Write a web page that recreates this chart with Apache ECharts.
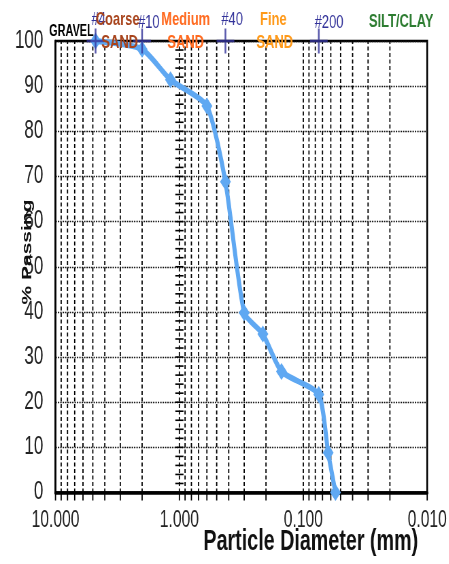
<!DOCTYPE html>
<html>
<head>
<meta charset="utf-8">
<script src="https://cdn.jsdelivr.net/npm/echarts@6/dist/echarts.min.js"></script>
<style>
  html, body { margin: 0; padding: 0; background: #fff; overflow: hidden; }
  /* the chart is laid out on a wider canvas and squeezed horizontally */
  #chart { width: 660px; height: 564px; transform: scaleX(0.68); transform-origin: 0 0; }
</style>
</head>
<body>
<div id="chart"></div>
<script>
// Sieve analysis: grain size (mm) vs. percent passing
const grainSizes     = [4.75, 2.0, 1.18, 0.6, 0.425, 0.3, 0.212, 0.15, 0.075, 0.063, 0.055];
const percentPassing = [100, 98.2, 91.4, 85.6, 68.8, 39.8, 35.1, 26.8, 21.7, 8.8, 0];

// Standard sieves marked along the top of the chart
const sieveNames = ['#4', '#10', '#40', '#200'];
const sieveSizes = [4.75, 2.0, 0.425, 0.075];

// Axis ticks
const xMajorTicks  = [10, 1, 0.1, 0.01];
const xTickLabels  = ['10.000', '1.000', '0.100', '0.010'];
const minorFactors = [2, 3, 4, 5, 6, 7, 8, 9];
const yMin = 0, yMax = 100, yStep = 10, crossTickStep = 2;

const FONT = "'Liberation Sans', Arial, sans-serif";

// vertical grid positions: each decade plus its 2..9 subdivisions
const gridVals = [];
xMajorTicks.forEach(function (m, i) {
  gridVals.push(m);
  if (i < xMajorTicks.length - 1) {
    minorFactors.forEach(function (f) { gridVals.push(m / 10 * f); });
  }
});
// small crossing ticks on the 1 mm line
const crossTicks = [];
for (let v = yMin + crossTickStep; v < yMax; v += crossTickStep) crossTicks.push(v);

const chart = echarts.init(document.getElementById('chart'), null, { renderer: 'canvas' });

chart.setOption({
  animation: false,
  backgroundColor: '#fff',
  grid: {
    left: 81.6, right: 29.1, top: 41, bottom: 71.5,
    show: true, borderColor: '#000', borderWidth: 2.5, backgroundColor: 'transparent'
  },
  xAxis: {
    type: 'log', logBase: 10, min: 0.01, max: 10, inverse: true,
    axisLine: { show: true, lineStyle: { color: '#000', width: 3.5 } },
    axisTick: { show: false },
    splitLine: { show: false },
    axisLabel: {
      fontFamily: FONT, fontSize: 23, color: '#222', margin: 17,
      formatter: function (v) {
        let best = 0;
        xMajorTicks.forEach(function (t, i) {
          if (Math.abs(Math.log10(t) - Math.log10(v)) < Math.abs(Math.log10(xMajorTicks[best]) - Math.log10(v))) best = i;
        });
        return xTickLabels[best];
      }
    }
  },
  yAxis: {
    type: 'value', min: yMin, max: yMax, interval: yStep,
    axisLine: { show: true, lineStyle: { color: '#000', width: 2.5 } },
    axisTick: { show: false },
    axisLabel: { fontFamily: FONT, fontSize: 25, color: '#222', margin: 18 },
    splitLine: { show: true, lineStyle: { color: '#111', width: 1.4, type: [2, 1.5] } }
  },
  series: [
    {
      // dashed log grid lines with ticks below the axis
      type: 'custom', silent: true, z: 1,
      data: gridVals.map(function (v) { return [v, yMin]; }),
      renderItem: function (params, api) {
        const x = api.value(0);
        const p0 = api.coord([x, yMin]);
        const p1 = api.coord([x, yMax]);
        const children = [{
          type: 'line',
          shape: { x1: p0[0], y1: p0[1], x2: p0[0], y2: p0[1] + 8 },
          style: { stroke: '#000', lineWidth: 1.8 }
        }];
        if (x < 9.99 && x > 0.0101) {
          children.push({
            type: 'line',
            shape: { x1: p0[0], y1: p0[1], x2: p1[0], y2: p1[1] },
            style: { stroke: '#000', lineWidth: 1.8, lineDash: [4, 2.5] }
          });
        }
        return { type: 'group', children: children };
      }
    },
    {
      // crossing minor ticks on the 1.000 mm line
      type: 'custom', silent: true, z: 2,
      data: crossTicks.map(function (v) { return [1, v]; }),
      renderItem: function (params, api) {
        const p = api.coord([api.value(0), api.value(1)]);
        return {
          type: 'line',
          shape: { x1: p[0] - 6, y1: p[1], x2: p[0] + 6, y2: p[1] },
          style: { stroke: '#000', lineWidth: 1.6 }
        };
      }
    },
    {
      name: 'Gradation',
      type: 'line', z: 3, clip: false,
      smooth: 0.2,
      data: grainSizes.map(function (d, i) { return [d, percentPassing[i]]; }),
      lineStyle: { color: '#5FA8F2', width: 6 },
      itemStyle: { color: '#5FA8F2' },
      symbol: 'diamond', symbolSize: [16, 17], showSymbol: true
    },
    {
      name: 'Sieves',
      type: 'scatter', z: 4, clip: false, silent: true,
      data: sieveSizes.map(function (s) { return [s, yMax]; }),
      symbol: 'path://M10,0 L10,24 M0,12 L20,12',
      symbolSize: [26, 25],
      itemStyle: { color: 'transparent', borderColor: '#33339A', borderWidth: 2.5 }
    }
  ]
});

// Annotations: sieve numbers, soil classes and axis titles
const graphics = [];
sieveNames.forEach(function (name, i) {
  const px = chart.convertToPixel({ xAxisIndex: 0, yAxisIndex: 0 }, [sieveSizes[i], yMax]);
  graphics.push({
    type: 'text', z: 10, silent: true,
    x: px[0] - 6, y: (i % 2 === 0) ? 20 : 23,
    style: { text: name, fontFamily: FONT, fontSize: 19, fill: '#33339A', align: 'left', verticalAlign: 'middle' }
  });
});

function label(text, x, y, color, size) {
  graphics.push({
    type: 'text', z: 10, silent: true, x: x, y: y,
    style: { text: text, fontFamily: FONT, fontSize: size, fontWeight: 'bold', fill: color, align: 'center', verticalAlign: 'middle' }
  });
}
label('GRAVEL', 105, 32, '#000', 16);
label('Coarse', 173, 20, '#A8441C', 19);
label('SAND', 176, 43, '#A8441C', 19);
label('Medium', 273, 20, '#FF6A1F', 19);
label('SAND', 273, 43, '#FF6A1F', 19);
label('Fine', 402, 20, '#FF9A1A', 19);
label('SAND', 404, 43, '#FF9A1A', 19);
label('SILT/CLAY', 590, 22, '#2E7D32', 19);

// x axis title
graphics.push({
  type: 'text', z: 10, silent: true, x: 457, y: 542,
  style: { text: 'Particle Diameter (mm)', fontFamily: FONT, fontSize: 29, fontWeight: 'bold', fill: '#111', align: 'center', verticalAlign: 'middle' }
});
// y axis title, reading bottom to top
graphics.push({
  type: 'text', z: 10, silent: true, x: 40, y: 252, rotation: Math.PI / 2,
  style: { text: '% Passing', fontFamily: FONT, fontSize: 21, fontWeight: 'bold', fill: '#111', align: 'center', verticalAlign: 'middle' }
});

chart.setOption({ graphic: graphics });
</script>
</body>
</html>
